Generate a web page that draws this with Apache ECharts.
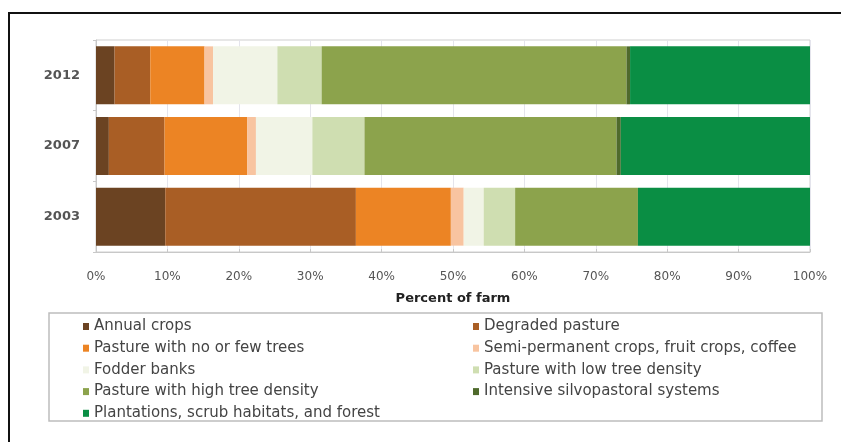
<!DOCTYPE html>
<html>
<head>
<meta charset="utf-8">
<script src="https://cdn.jsdelivr.net/npm/echarts@6/dist/echarts.min.js"></script>
<style>
html,body{margin:0;padding:0;background:#fff;}
#chart{width:841px;height:442px;}
</style>
</head>
<body>
<div id="chart"></div>
<script>
// Categories (bottom to top on the y axis)
const years = ['2003', '2007', '2012'];
const xTickLabels = ['0%','10%','20%','30%','40%','50%','60%','70%','80%','90%','100%'];
const seriesNames = [
  'Annual crops',
  'Degraded pasture',
  'Pasture with no or few trees',
  'Semi-permanent crops, fruit crops, coffee',
  'Fodder banks',
  'Pasture with low tree density',
  'Pasture with high tree density',
  'Intensive silvopastoral systems',
  'Plantations, scrub habitats, and forest'
];
// Values per series, ordered as years: 2003, 2007, 2012 (percent of farm)
const annualCrops      = [9.7, 1.8, 2.6];
const degradedPasture  = [26.7, 7.8, 5.0];
const pastureFewTrees  = [13.3, 11.6, 7.6];
const semiPermanent    = [1.8, 1.2, 1.2];
const fodderBanks      = [2.8, 7.9, 9.0];
const lowTreeDensity   = [4.4, 7.3, 6.2];
const highTreeDensity  = [17.2, 35.3, 42.7];
const intensiveSilvo   = [0, 0.6, 0.5];
const plantations      = [24.1, 26.5, 25.2];

const seriesValues = [annualCrops, degradedPasture, pastureFewTrees, semiPermanent,
  fodderBanks, lowTreeDensity, highTreeDensity, intensiveSilvo, plantations];
const colors = ['#6b4322', '#a95e25', '#ec8424', '#f8c4a0', '#f1f4e6', '#cfdeb1', '#8ca34c', '#4f6a2c', '#0a8e44'];

const FONT = 'DejaVu Sans';
const chart = echarts.init(document.getElementById('chart'));

const legendCommon = {
  orient: 'vertical',
  icon: 'rect',
  itemWidth: 6,
  itemHeight: 7,
  itemGap: 6.7,
  padding: 0,
  selectedMode: false,
  textStyle: { fontFamily: FONT, fontSize: 15, lineHeight: 15, color: '#444', padding: [0,0,0,0] }
};

chart.setOption({
  animation: false,
  color: colors,
  grid: { left: 96, right: 31, top: 40, bottom: 190, show: true, borderColor: '#cfcfcf', borderWidth: 1 },
  xAxis: {
    type: 'value',
    min: 0, max: 100, interval: 10,
    name: 'Percent of farm',
    nameLocation: 'middle',
    nameGap: 40,
    nameTextStyle: { fontFamily: FONT, fontSize: 13, fontWeight: 'bold', color: '#222' },
    axisLine: { show: true, lineStyle: { color: '#c8c8c8' } },
    axisTick: { show: true, inside: true, length: 3, lineStyle: { color: '#c8c8c8' } },
    axisLabel: {
      margin: 19,
      fontFamily: FONT, fontSize: 12, color: '#555',
      formatter: function (v) { return xTickLabels[Math.round(v / 10)]; }
    },
    splitLine: { show: true, lineStyle: { color: '#e4e4ec' } }
  },
  yAxis: {
    type: 'category',
    data: years,
    axisLine: { show: true, lineStyle: { color: '#c8c8c8' } },
    axisTick: { show: true, length: 3, lineStyle: { color: '#c8c8c8' } },
    axisLabel: { margin: 16, fontFamily: FONT, fontSize: 13, fontWeight: 'bold', color: '#555' }
  },
  legend: [
    Object.assign({}, legendCommon, {
      left: 83, top: 319,
      data: [seriesNames[0], seriesNames[2], seriesNames[4], seriesNames[6], seriesNames[8]]
    }),
    Object.assign({}, legendCommon, {
      left: 473, top: 319,
      data: [seriesNames[1], seriesNames[3], seriesNames[5], seriesNames[7]]
    })
  ],
  graphic: [
    { type: 'rect', z: -1, shape: { x: 49, y: 313, width: 773, height: 108 },
      style: { fill: 'none', stroke: '#bdbdbd', lineWidth: 1.5 } },
    { type: 'line', shape: { x1: 8, y1: 13, x2: 841, y2: 13 }, style: { stroke: '#111', lineWidth: 2 } },
    { type: 'line', shape: { x1: 9, y1: 12, x2: 9, y2: 442 }, style: { stroke: '#111', lineWidth: 2 } }
  ],
  series: seriesNames.map(function (name, i) {
    return {
      name: name,
      type: 'bar',
      stack: 'farm',
      barCategoryGap: '18%',
      data: seriesValues[i],
      itemStyle: { color: colors[i] }
    };
  })
});
</script>
</body>
</html>
